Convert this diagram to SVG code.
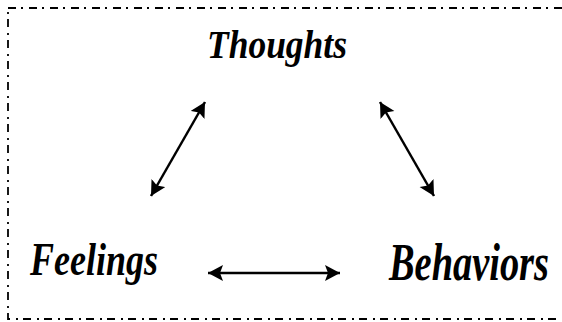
<svg xmlns="http://www.w3.org/2000/svg" width="562" height="322" viewBox="0 0 562 322">
<style>
.lbl{font-family:"Liberation Serif","DejaVu Serif",serif;font-weight:bold;font-style:italic;fill:#000}
.conn{stroke:#000;stroke-width:2.5;fill:none;marker-start:url(#ah);marker-end:url(#ah)}
.frame{fill:none;stroke:#000;stroke-width:1.8;stroke-dasharray:8 5 2 6}
</style>
<defs>
<marker id="ah" markerUnits="userSpaceOnUse" markerWidth="17" markerHeight="17" refX="15" refY="8" orient="auto-start-reverse">
<path d="M0,0 L15,8 L0,16 L3,8 Z" fill="#000"/>
</marker>
</defs>
<rect class="frame" x="8" y="8" width="570" height="311"/>
<g id="thoughts"><text class="lbl" x="207" y="58" font-size="40" textLength="140" lengthAdjust="spacingAndGlyphs">Thoughts</text></g>
<g id="feelings"><text class="lbl" x="30" y="275" font-size="46" textLength="128" lengthAdjust="spacingAndGlyphs">Feelings</text></g>
<g id="behaviors"><text class="lbl" transform="translate(389,280) scale(1,1.3)" x="0" y="0" font-size="40" textLength="160" lengthAdjust="spacingAndGlyphs">Behaviors</text></g>
<g id="connectors">
<line class="conn" x1="151" y1="196" x2="205" y2="102"/>
<line class="conn" x1="380" y1="102" x2="434" y2="196"/>
<line class="conn" x1="208" y1="273" x2="340" y2="273"/>
</g>
</svg>
